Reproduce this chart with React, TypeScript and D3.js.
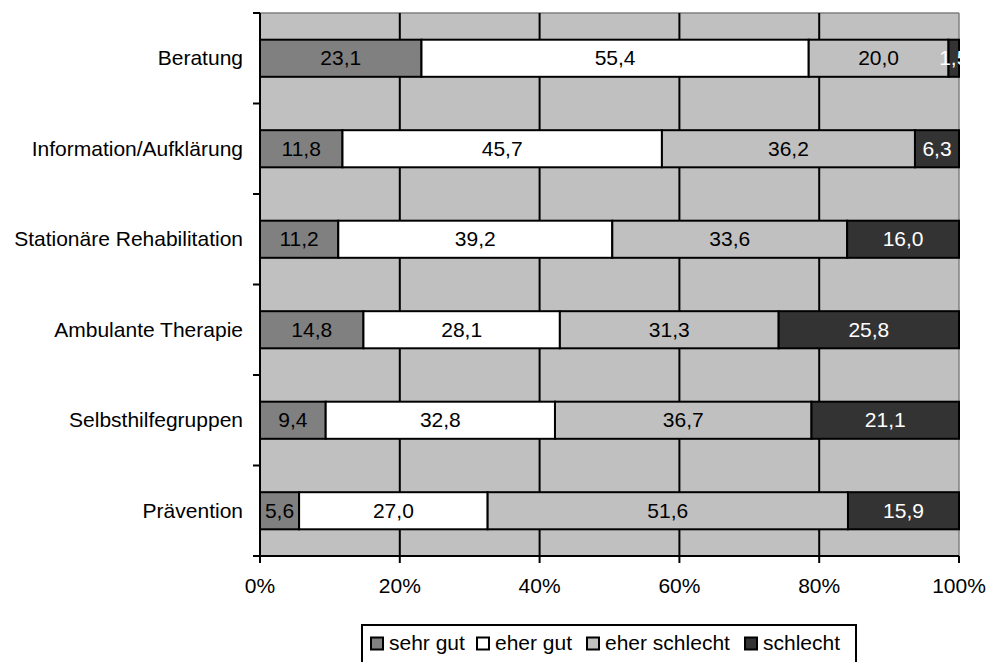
import React from "react";
import * as d3 from "d3";

const categories = [
  "Beratung",
  "Information/Aufklärung",
  "Stationäre Rehabilitation",
  "Ambulante Therapie",
  "Selbsthilfegruppen",
  "Prävention",
];
const seriesNames = ["sehr gut", "eher gut", "eher schlecht", "schlecht"];
const sehrGut = [23.1, 11.8, 11.2, 14.8, 9.4, 5.6];
const eherGut = [55.4, 45.7, 39.2, 28.1, 32.8, 27.0];
const eherSchlecht = [20.0, 36.2, 33.6, 31.3, 36.7, 51.6];
const schlecht = [1.5, 6.3, 16.0, 25.8, 21.1, 15.9];
const xTicks = [0, 0.2, 0.4, 0.6, 0.8, 1.0];

const colors = ["#808080", "#ffffff", "#c0c0c0", "#333333"];
const labelColors = ["#000", "#000", "#000", "#fff"];
const legendX = [371, 477, 587, 745];

export default function App() {
  const W = 989, H = 662;
  const left = 260, right = 959, top = 13, bottom = 556;
  const rows = categories.map((c, i) => ({
    cat: c,
    "sehr gut": sehrGut[i],
    "eher gut": eherGut[i],
    "eher schlecht": eherSchlecht[i],
    schlecht: schlecht[i],
  }));
  const stack = d3.stack<any>().keys(seriesNames).offset(d3.stackOffsetExpand);
  const series = stack(rows);
  const x = d3.scaleLinear().domain([0, 1]).range([left, right]);
  const y = d3.scaleBand().domain(categories).range([top, bottom]).paddingInner(0.59).paddingOuter(0.295);
  const step = (bottom - top) / categories.length;
  const boundaries = d3.range(categories.length + 1).map((i) => top + i * step);
  const font = "'Liberation Sans', Arial, sans-serif";
  const fs = 21;

  return (
    <svg width={W} height={H} style={{ position: "absolute", left: 0, top: 0 }} fontFamily={font}>
      <rect x={left} y={top} width={right - left} height={bottom - top} fill="#c0c0c0" />
      <line x1={left} x2={right} y1={top} y2={top} stroke="#808080" strokeWidth={1.5} />
      <line x1={right} x2={right} y1={top} y2={bottom} stroke="#808080" strokeWidth={1.5} />
      {xTicks.slice(1, -1).map((t) => (
        <line key={t} x1={x(t)} x2={x(t)} y1={top} y2={bottom} stroke="#000" strokeWidth={2} />
      ))}
      {series.map((s, si) =>
        s.map((d: any, i: number) => {
          const x0 = x(d[0]);
          const x1 = x(d[1]);
          const yy = y(categories[i])!;
          const bh = y.bandwidth();
          const orig = [sehrGut, eherGut, eherSchlecht, schlecht][si][i];
          return (
            <g key={`${si}-${i}`}>
              <rect x={x0} y={yy} width={x1 - x0} height={bh} fill={colors[si]} stroke="#000" strokeWidth={2} />
              <text
                x={(x0 + x1) / 2}
                y={yy + bh / 2 + 7}
                textAnchor="middle"
                fontSize={fs}
                fill={labelColors[si]}
              >
                {orig.toFixed(1).replace(".", ",")}
              </text>
            </g>
          );
        })
      )}
      {/* y axis */}
      <line x1={left} x2={left} y1={top} y2={bottom + 1} stroke="#000" strokeWidth={2} />
      {boundaries.map((b, i) => (
        <line key={i} x1={left - 7} x2={left} y1={b} y2={b} stroke="#000" strokeWidth={2} />
      ))}
      {categories.map((c) => (
        <text key={c} x={243} y={y(c)! + y.bandwidth() / 2 + 7} textAnchor="end" fontSize={fs} fill="#000">
          {c}
        </text>
      ))}
      {/* x axis */}
      <line x1={left - 7} x2={right} y1={bottom} y2={bottom} stroke="#000" strokeWidth={2} />
      {xTicks.map((t) => (
        <g key={t}>
          <line x1={x(t)} x2={x(t)} y1={bottom} y2={bottom + 7} stroke="#000" strokeWidth={2} />
          <text x={x(t)} y={593} textAnchor="middle" fontSize={fs} fill="#000">
            {d3.format(".0%")(t)}
          </text>
        </g>
      ))}
      {/* legend */}
      <rect x={362} y={625} width={494} height={45} fill="#fff" stroke="#000" strokeWidth={2} />
      {seriesNames.map((n, i) => (
        <g key={n}>
          <rect x={legendX[i]} y={637.5} width={12} height={12} fill={colors[i]} stroke="#000" strokeWidth={2} />
          <text x={legendX[i] + 18} y={650} fontSize={fs} fill="#000">
            {n}
          </text>
        </g>
      ))}
    </svg>
  );
}
